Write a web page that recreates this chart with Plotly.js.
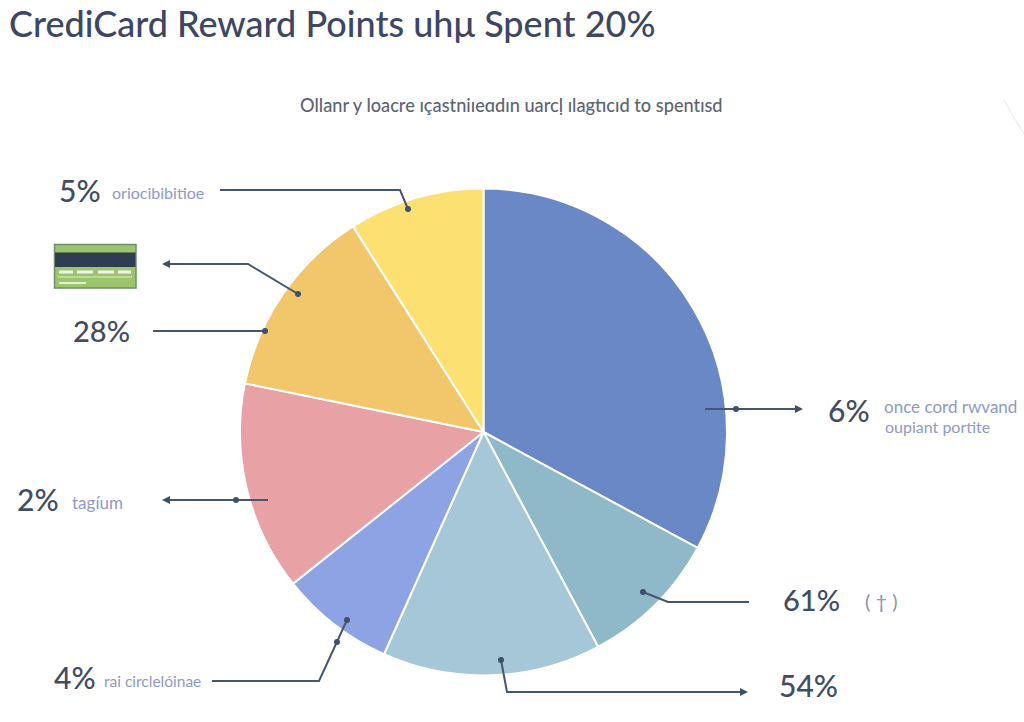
<!DOCTYPE html>
<html>
<head>
<meta charset="utf-8">
<script src="https://cdn.plot.ly/plotly-3.0.1.min.js"></script>
<style>html,body{margin:0;padding:0;background:#fff}#chart{width:1024px;height:722px}</style>
</head>
<body>
<div id="chart"></div>
<script>
var categories = ["once cord rwvand oupiant portite", "(†)", "54%", "rai circlelóinae", "tagíum", "28%", "oriocibibitioe"];
var sliceValues = [32.9, 9.3, 14.5, 7.6, 13.9, 12.8, 9.0];
var sliceColors = ["#6b88c6", "#8fb8c9", "#a5c7d8", "#8ea3e4", "#e8a2a6", "#f2c76c", "#fde072"];

var W = 1024, H = 722;
function px(x){return x/W;}
function py(y){return 1-y/H;}
var INK = "#46566e", NUM = "#434c63", SUB = "#8d9ac6";

var percentLabels = [
  {t:"5%", x:80, y:190, s:30},
  {t:"28%", x:101, y:330, s:29},
  {t:"6%", x:849, y:410, s:30},
  {t:"2%", x:38, y:499, s:30},
  {t:"4%", x:75, y:677, s:30},
  {t:"61%", x:811, y:599, s:29},
  {t:"54%", x:808, y:685, s:30}
];
var sideLabels = [
  {t:"oriocibibitioe", x:158, y:192, s:16, c:SUB},
  {t:"once cord rwvand", x:950, y:407, s:17, c:SUB},
  {t:"oupiant portite", x:937, y:426, s:16, c:SUB},
  {t:"tagíum", x:97, y:502, s:17, c:SUB},
  {t:"rai circlelóinae", x:152, y:681, s:15.5, c:SUB},
  {t:"( † )", x:881, y:601, s:20, c:"#8a93a8"}
];
var leaderPaths = [
  [[220,190],[400,190],[408,209]],
  [[170,264],[248,264],[298,294]],
  [[153,331],[265,331]],
  [[705,409],[798,409]],
  [[165,500],[268,500]],
  [[212,681],[319,681],[347,620]],
  [[749,602],[668,602],[643,592]],
  [[501,660],[507,692],[743,692]]
];
var leaderDots = [[408,209],[298,294],[265,331],[736,409],[236,500],[337,642],[347,620],[643,592],[501,660]];
var arrowHeads = [[162,264,1],[162,500,1],[803,409,-1],[748,692,-1]];

var shapes = [];
leaderPaths.forEach(function(p){
  shapes.push({type:"path", xref:"paper", yref:"paper",
    path:p.map(function(q,i){return (i?"L":"M")+px(q[0])+" "+py(q[1]);}).join(" "),
    line:{color:INK,width:2}});
});
leaderDots.forEach(function(d){
  var r=3;
  shapes.push({type:"circle", xref:"paper", yref:"paper",
    x0:px(d[0]-r),x1:px(d[0]+r),y0:py(d[1]+r),y1:py(d[1]-r),
    fillcolor:"#3f4f68",line:{width:0}});
});
arrowHeads.forEach(function(a){
  var x=a[0],y=a[1],k=a[2];
  shapes.push({type:"path", xref:"paper", yref:"paper",
    path:"M"+px(x)+" "+py(y)+" L"+px(x+8*k)+" "+py(y-4)+" L"+px(x+8*k)+" "+py(y+4)+" Z",
    fillcolor:"#3f4f68",line:{width:0}});
});
function rect(x0,y0,x1,y1,fill,line){
  shapes.push({type:"rect", xref:"paper", yref:"paper",
    x0:px(x0),x1:px(x1),y0:py(y1),y1:py(y0),fillcolor:fill,
    line:line?{color:line,width:1.5}:{width:0}});
}
// card icon
rect(54.5,244.5,136,288,"#9cc46c","#6f8f6a");
rect(55,252.5,135.5,267,"#2f3d52");
[[59,73],[77,93],[98,114],[118,131]].forEach(function(b){rect(b[0],270.5,b[1],273.5,"#f1f6e6");});
rect(58,276.5,132,277.5,"#dfeccb");
rect(59,282,86,284,"#e6f0d4");
// faint corner arc
shapes.push({type:"path", xref:"paper", yref:"paper",
  path:"M"+px(1004)+" "+py(100)+" Q"+px(1014)+" "+py(118)+" "+px(1024)+" "+py(134),
  line:{color:"#e6e6ea",width:1}});

var annotations = [
  {text:"CrediCard Reward Points uhμ Spent 20%", x:7, y:23, s:36, c:"#3d4664", anchor:"left"},
  {text:"Ollanr y loacre ıçastniıeɑdın uarcḷ ılagtıcıd to spentɪsd", x:511, y:105, s:18.2, c:"#5c6472", anchor:"center"}
].map(function(a){
  return {text:a.text, xref:"paper", yref:"paper", x:px(a.x), y:py(a.y), xanchor:a.anchor, yanchor:"middle",
    showarrow:false, font:{family:"Lato, sans-serif", size:a.s, color:a.c, weight:500}};
});
percentLabels.forEach(function(l){
  annotations.push({text:l.t, xref:"paper", yref:"paper", x:px(l.x), y:py(l.y), xanchor:"center", yanchor:"middle",
    showarrow:false, font:{family:"Lato, sans-serif", size:l.s, color:NUM, weight:500}});
});
sideLabels.forEach(function(l){
  annotations.push({text:l.t, xref:"paper", yref:"paper", x:px(l.x), y:py(l.y), xanchor:"center", yanchor:"middle",
    showarrow:false, font:{family:"Lato, sans-serif", size:l.s, color:l.c}});
});

var cx=483.5, cy=432, R=243.5;
var trace = {
  type:"pie", labels:categories, values:sliceValues, sort:false, direction:"clockwise", rotation:0,
  marker:{colors:sliceColors, line:{color:"#ffffff", width:2}},
  textinfo:"none", hoverinfo:"label+percent",
  domain:{x:[(cx-R)/W,(cx+R)/W], y:[1-(cy+R)/H,1-(cy-R)/H]}
};
Plotly.newPlot("chart",[trace],{
  width:W, height:H, margin:{l:0,r:0,t:0,b:0}, showlegend:false,
  paper_bgcolor:"#ffffff", shapes:shapes, annotations:annotations
},{displayModeBar:false,staticPlot:true});
</script>
</body>
</html>
